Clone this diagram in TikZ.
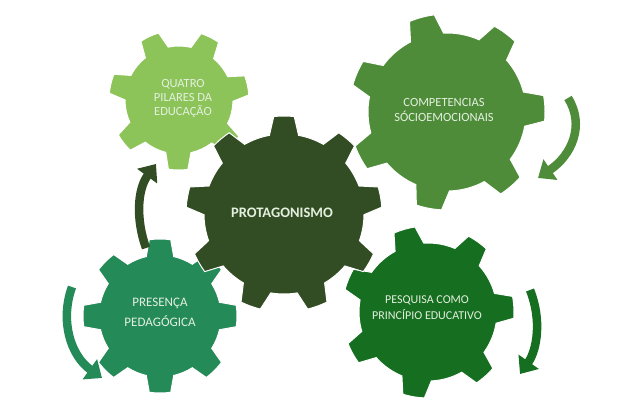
\documentclass[tikz,border=0pt]{standalone}
\usepackage{fontspec}
\setmainfont{Carlito}
\usetikzlibrary{arrows.meta}

\definecolor{verdeclaro}{RGB}{140,196,90}
\definecolor{verdemedio}{RGB}{78,140,58}
\definecolor{verdeescuro}{RGB}{50,76,36}
\definecolor{verdeagua}{RGB}{36,138,88}
\definecolor{verdefolha}{RGB}{22,110,32}
\definecolor{textoclaro}{RGB}{228,240,222}

% Engrenagem: dentes, raio interno, raio externo, meia base, meio topo, rotacion
\newcommand{\engrenagem}[6]{%
  (#6-#4:#2)
  \foreach \k [evaluate=\k as \a using #6+(\k-1)*360/#1] in {1,...,#1}{%
    -- (\a-#5:#3) arc (\a-#5:\a+#5:#3) -- (\a+#4:#2) arc (\a+#4:\a+360/#1-#4:#2)
  } -- cycle
}

\begin{document}
\begin{tikzpicture}[x=1pt, y=1pt,
    engr/.style={draw=white, line width=1pt},
    rotulo/.style={text=textoclaro, align=center, font=\fontsize{12.5}{14}\selectfont},
    seta/.style={line width=8.5pt, -{Triangle[width=24pt,length=15pt]}}]
    \useasboundingbox (0,0) rectangle (620,400);
    % Engrenagens
    \fill[engr, fill=verdeclaro, shift={(179,300)}] \engrenagem{7}{54}{70}{13.5}{8}{115};
    \fill[engr, fill=verdemedio, shift={(447,288)}] \engrenagem{7}{79}{98}{12.5}{7.5}{105};
    \fill[engr, fill=verdeagua, shift={(160,84)}] \engrenagem{8}{61}{77}{13}{8}{90};
    \fill[engr, fill=verdefolha, shift={(428,88)}] \engrenagem{7}{69}{86}{12.5}{7.3}{106};
    \fill[engr, fill=verdeescuro, shift={(284,186)}] \engrenagem{9}{80}{98}{10.5}{6}{90};
    % Textos
    \node[rotulo] (quatro) at (183,302) {QUATRO\\PILARES DA\\EDUCAÇÃO};
    \node[rotulo, font=\fontsize{12.5}{15}\selectfont] (competencias) at (444,290) {COMPETENCIAS\\SÓCIOEMOCIONAIS};
    \node[rotulo, font=\bfseries\fontsize{14.5}{16}\selectfont] (protagonismo) at (282,187) {PROTAGONISMO};
    \node[rotulo, font=\fontsize{13}{20}\selectfont] (presenca) at (160,88) {PRESENÇA\\PEDAGÓGICA};
    \node[rotulo, font=\fontsize{12}{16}\selectfont] (pesquisa) at (427,92) {PESQUISA COMO\\PRINCÍPIO EDUCATIVO};
    % Setas curvas
    \draw[seta, verdeescuro] (146,152) .. controls (136,180) and (137,210) .. (156,236);
    \draw[seta, verdemedio] (568,302) .. controls (585,275) and (572,245) .. (538,222);
    \draw[seta, verdefolha] (530,110) .. controls (542,80) and (537,50) .. (520,26);
    \draw[seta, verdeagua] (72,113) .. controls (60,80) and (70,45) .. (102,22);
\end{tikzpicture}
\end{document}
